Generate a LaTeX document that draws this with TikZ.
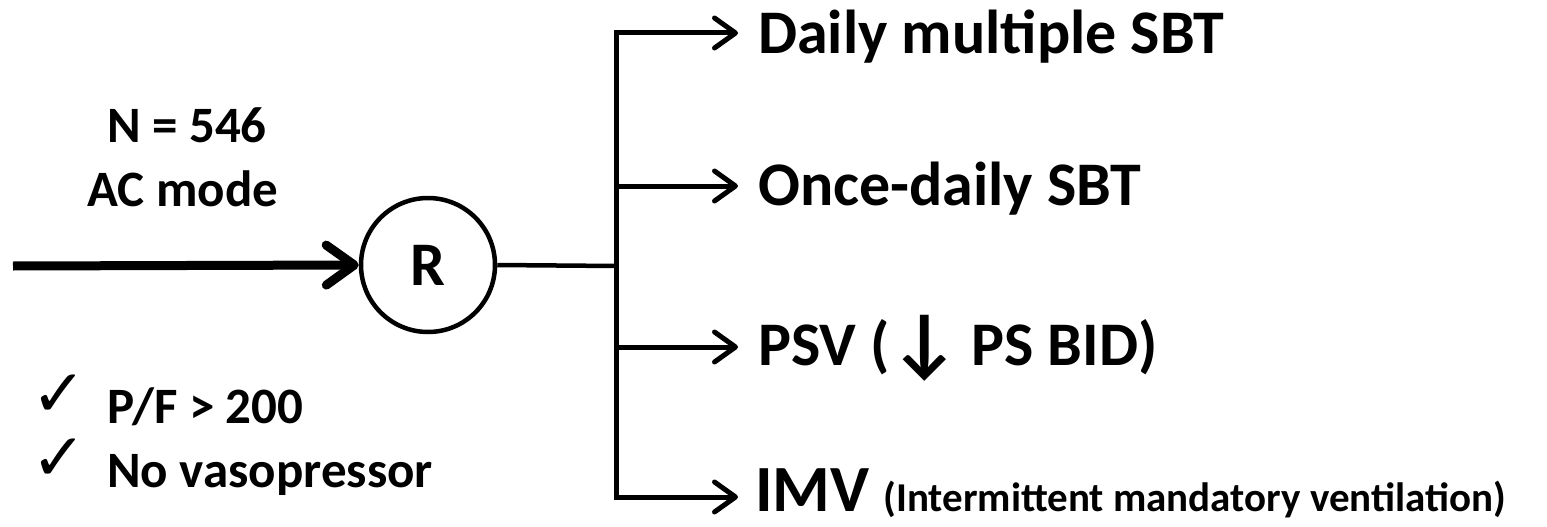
\documentclass[tikz,border=0pt]{standalone}
\usepackage{fontspec}
\setmainfont{Carlito}
\newfontfamily\symfont{DejaVu Sans}
\usetikzlibrary{arrows.meta}
\begin{document}
\begin{tikzpicture}[x=1pt,y=-1pt,
  bigtxt/.style={font=\fontsize{62}{62}\selectfont\bfseries, anchor=base west, inner sep=0pt},
  midtxt/.style={font=\fontsize{51}{51}\selectfont\bfseries, inner sep=0pt},
  chk/.style={font=\fontsize{66}{66}\selectfont\symfont, inner sep=0pt, anchor=base west},
  inarrow/.style={line width=9pt, -{Straight Barb[length=28pt, width=40pt, round]}},
  brarrow/.style={line width=5pt, -{Straight Barb[length=21pt, width=30pt, round]}},
  brline/.style={line width=4.5pt},
  rnode/.style={draw, circle, line width=4.5pt, minimum size=134pt, inner sep=0pt,
    font=\fontsize{62}{62}\selectfont\bfseries}
]
\fill[white] (0,0) rectangle (1547,527);
\useasboundingbox (0,0) rectangle (1547,527);

% randomisation node
\node[rnode] (R) at (428,265) {R};

% input arrow
\coordinate (in) at (13,266);
\draw[inarrow] (in) -- (R.west);

% junctions
\coordinate (jm) at (616,266);
\coordinate (j1) at (616,33);
\coordinate (j2) at (616,186);
\coordinate (j3) at (616,347);
\coordinate (j4) at (616,497);
\coordinate (e1) at (738,33);
\coordinate (e2) at (738,186);
\coordinate (e3) at (738,347);
\coordinate (e4) at (738,497);

\draw[brline] (R.east) -- (jm);
\draw[brarrow] (j4) -- (j1) -- (e1);
\draw[brarrow] (j1) -- (j4) -- (e4);
\draw[brarrow] (j2) -- (e2);
\draw[brarrow] (j3) -- (e3);

% arm labels
\node[bigtxt] (t1) at (758,53) {Daily multiple SBT};
\node[bigtxt] (t2) at (758,205) {Once-daily SBT};
\node[bigtxt] (t3) at (758,365) {PSV ({\fontsize{78}{78}\selectfont\raisebox{-3pt}{↓}}\kern-3pt{} PS BID)};
\node[bigtxt, font=\fontsize{66}{66}\selectfont\bfseries] (t4) at (755,511)
  {IMV\hspace{14pt}{\fontsize{41}{41}\selectfont(Intermittent mandatory ventilation)}};

% left labels
\node[midtxt, anchor=base] (n) at (187,142) {N = 546};
\node[midtxt, anchor=base] (ac) at (183,206) {AC mode};

\node[chk] (c1) at (31,416) {✓};
\node[chk] (c2) at (31,480) {✓};
\node[midtxt, anchor=base west] (p) at (107,423) {P/F > 200};
\node[midtxt, anchor=base west] (nv) at (107,487) {No vasopressor};
\end{tikzpicture}
\end{document}
